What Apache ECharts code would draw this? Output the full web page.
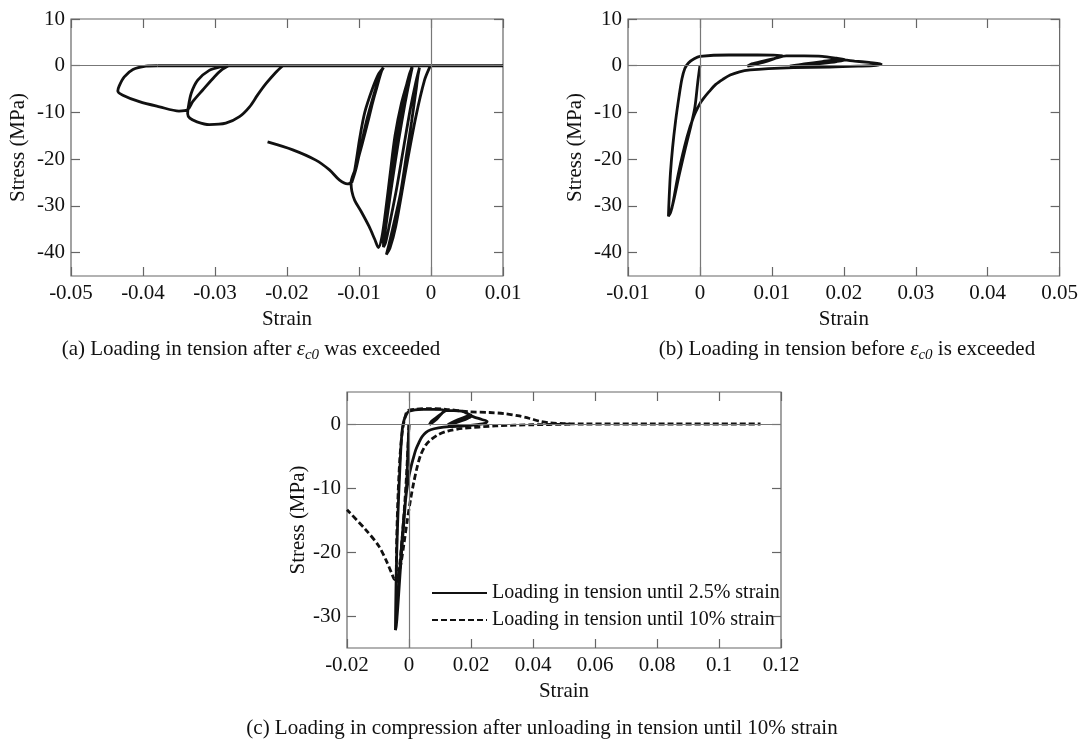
<!DOCTYPE html>
<html>
<head>
<meta charset="utf-8">
<script src="https://cdn.jsdelivr.net/npm/echarts@6/dist/echarts.min.js"></script>
<style>
  html, body { margin: 0; padding: 0; background: #fff; }
  #chart { width: 1081px; height: 744px; }
</style>
</head>
<body>
<div id="chart"></div>
<script>
// ---- (a) loading in tension after eps_c0 was exceeded ----
// right cluster: pre-peak cycles, softening, band of reload cycles, softening tail
const aRightStrain = [0, -0.0002, -0.0009, -0.0021, -0.0035, -0.0049, -0.0057, -0.0062,
  -0.0058, -0.0049, -0.0042, -0.0034, -0.0027, -0.0021, -0.0018, -0.0016,
  -0.0021, -0.0029, -0.0038, -0.0048, -0.0057, -0.0063, -0.0066,
  -0.0066, -0.0061, -0.0053, -0.0044, -0.0036, -0.0030, -0.0026,
  -0.0029, -0.0036, -0.0045, -0.0054, -0.0061, -0.0065,
  -0.0062, -0.0056, -0.0048, -0.0039, -0.0031, -0.0027,
  -0.0031, -0.0041, -0.0050, -0.0057, -0.0063, -0.0068, -0.0073,
  -0.0078, -0.0086, -0.0097, -0.0106, -0.0110, -0.0111,
  -0.0105, -0.0096, -0.0086, -0.0078, -0.0071, -0.0067,
  -0.0072, -0.0080, -0.0089, -0.0097, -0.0104, -0.0110,
  -0.0102, -0.0093, -0.0083, -0.0075, -0.0069, -0.0066,
  -0.0073, -0.0082, -0.0092, -0.0099, -0.0104, -0.0108, -0.0112,
  -0.0116, -0.0127, -0.0141, -0.0160, -0.0192, -0.0227];
const aRightStress = [0, -0.4, -3.1, -10.9, -22.3, -34.4, -39.0, -40.4,
  -38.0, -32.0, -27.0, -19.0, -12.0, -5.5, -2.0, -0.4,
  -3.5, -9.5, -17.5, -26.5, -33.5, -37.8, -38.8,
  -36.0, -30.0, -21.0, -12.0, -5.5, -1.8, -0.3,
  -2.5, -8.0, -16.0, -25.0, -32.5, -37.0,
  -33.0, -26.0, -17.0, -9.0, -3.0, -0.5,
  -2.5, -8.0, -15.0, -23.5, -31.0, -36.5, -38.9,
  -37.2, -34.4, -31.2, -28.8, -26.8, -25.0,
  -22.0, -17.0, -11.0, -6.0, -2.2, -0.5,
  -2.5, -6.5, -11.5, -17.0, -22.0, -25.0,
  -20.5, -15.0, -9.0, -4.5, -1.3, -0.4,
  -1.8, -5.2, -10.0, -15.5, -20.5, -23.8, -25.1,
  -25.3, -24.5, -22.3, -20.2, -18.0, -16.3];
// left loops
const aLoopStrain = [-0.0206, -0.0216, -0.0229, -0.0241, -0.0252, -0.0266, -0.0285, -0.0308,
  -0.0325, -0.0335, -0.0338, -0.0337, -0.0333, -0.0324, -0.0308, -0.0292, -0.0282,
  -0.0290, -0.0301, -0.0317, -0.0331, -0.0338, -0.0350, -0.0377, -0.0405,
  -0.0428, -0.0435, -0.0433, -0.0426, -0.0414, -0.0396, -0.0380];
const aLoopStress = [0, -1.5, -3.8, -6.3, -8.8, -10.9, -12.3, -12.6,
  -12.0, -11.2, -10.3, -8.8, -5.9, -3.1, -1.0, -0.2, -0.05,
  -0.8, -2.4, -5.2, -7.7, -9.4, -9.7, -8.8, -7.7,
  -6.3, -5.4, -4.3, -2.4, -0.8, -0.1, 0];
const aZeroStrain = [-0.0380, 0.01];
const aZeroStress = [0, 0];

// ---- (b) loading in tension before eps_c0 is exceeded (to 2.5 %) ----
const bStrain = [0, -0.0003, -0.0007, -0.0012, -0.0020, -0.0029, -0.0036, -0.0041, -0.00438,
  -0.0043, -0.0041, -0.0038, -0.0034, -0.0029, -0.0025, -0.0021, -0.0016, -0.0008, 0,
  0.004, 0.008, 0.0115,
  0.0105, 0.0090, 0.0075, 0.0066,
  0.0072, 0.0088, 0.0105, 0.0120, 0.0145, 0.0170, 0.0190, 0.0202,
  0.0190, 0.0170, 0.0145, 0.0125,
  0.0145, 0.0170, 0.0195, 0.0215, 0.0235, 0.0252,
  0.0245, 0.0220, 0.0180, 0.0130, 0.0095, 0.0070, 0.0055, 0.0042, 0.0032, 0.0022,
  0.0013, 0.0005, 0, -0.0009, -0.0018, -0.0030, -0.0039, -0.0043];
const bStress = [0, -3.5, -8.9, -12.5, -17.5, -23.5, -28.5, -31.5, -32.2,
  -29.0, -23.0, -17.5, -12.0, -6.5, -2.8, -0.6, 0.6, 1.5, 2.0,
  2.3, 2.3, 2.2,
  1.6, 0.8, 0.2, -0.1,
  0.4, 1.0, 1.6, 2.1, 2.1, 2.0, 1.6, 1.3,
  0.9, 0.5, 0.1, -0.1,
  0.4, 0.9, 1.3, 1.0, 0.7, 0.4,
  0.1, -0.1, -0.3, -0.4, -0.6, -0.9, -1.3, -2.0, -2.9, -4.0,
  -5.5, -7.0, -8.1, -11.0, -15.3, -23.1, -30.5, -32.0];

// ---- (c) compression after unloading in tension until 10 % ----
const cLongStrain = [0, -0.0008, -0.0019, -0.0030, -0.0038, -0.0041, -0.0040, -0.0036, -0.0029,
  -0.0021, -0.0012, -0.0004, 0.002, 0.006, 0.0118, 0.0194, 0.026, 0.0312, 0.035, 0.0387,
  0.042, 0.0452, 0.050, 0.056, 0.080, 0.1134];
const cLongStress = [0, -8, -16, -22, -24.8, -24.5, -19, -12, -5,
  -1, 1.2, 2.1, 2.3, 2.4, 2.3, 1.9, 1.8, 1.6, 1.3, 0.9,
  0.45, 0.2, 0.05, 0, 0, 0];
const cBackStrain = [0.052, 0.040, 0.028, 0.0172, 0.0125, 0.0097, 0.0072, 0.0054, 0.0038, 0.0027,
  0.0015, 0.0005, -0.0006, -0.0016, -0.0026, -0.0036, -0.0046, -0.0056, -0.0070, -0.0097,
  -0.0140, -0.0200];
const cBackStress = [-0.03, -0.12, -0.3, -0.7, -1.1, -1.6, -2.4, -3.3, -4.8, -6.6,
  -9.2, -11.8, -15.2, -18.6, -21.8, -23.8, -24.3, -23.3, -21.7, -19.1,
  -16.5, -13.4];

// ---- ticks ----
const aStrainTicks = [-0.05, -0.04, -0.03, -0.02, -0.01, 0, 0.01];
const bStrainTicks = [-0.01, 0, 0.01, 0.02, 0.03, 0.04, 0.05];
const cStrainTicks = [-0.02, 0, 0.02, 0.04, 0.06, 0.08, 0.1, 0.12];
const abStressTicks = [-40, -30, -20, -10, 0, 10];
const cStressTicks = [-30, -20, -10, 0];

const FONT = 'Liberation Serif';
const INK = '#111';
const FRAME = '#666';
const fmt = v => String(Math.round(v * 1000) / 1000);

function xAxes(gi, min, max, ticks) {
  const base = {
    gridIndex: gi, type: 'value', min: min, max: max,
    axisLine: { show: false, onZero: false }, splitLine: { show: false },
    axisTick: { inside: true, length: 9, customValues: ticks, lineStyle: { color: FRAME, width: 1.2 } }
  };
  return [
    Object.assign({}, base, {
      position: 'bottom', name: 'Strain', nameLocation: 'middle', nameGap: 33,
      nameTextStyle: { fontFamily: FONT, fontSize: 21, color: INK },
      axisLabel: { customValues: ticks, fontFamily: FONT, fontSize: 21, color: INK, margin: 7, formatter: fmt }
    }),
    Object.assign({}, base, { position: 'top', axisLabel: { show: false } })
  ];
}
function yAxes(gi, min, max, ticks, gap) {
  const base = {
    gridIndex: gi, type: 'value', min: min, max: max,
    axisLine: { show: false, onZero: false }, splitLine: { show: false },
    axisTick: { inside: true, length: 9, customValues: ticks, lineStyle: { color: FRAME, width: 1.2 } }
  };
  return [
    Object.assign({}, base, {
      position: 'left', name: 'Stress (MPa)', nameLocation: 'middle', nameGap: gap,
      nameTextStyle: { fontFamily: FONT, fontSize: 21, color: INK },
      axisLabel: { customValues: ticks, fontFamily: FONT, fontSize: 21, color: INK, margin: 6, formatter: fmt }
    }),
    Object.assign({}, base, { position: 'right', axisLabel: { show: false } })
  ];
}

function curve(name, xs, ys, ai, extra) {
  return Object.assign({
    name: name, type: 'line', xAxisIndex: ai, yAxisIndex: ai,
    data: xs.map((x, i) => [x, ys[i]]),
    showSymbol: false, symbol: 'none', smooth: 0.3, z: 3, silent: true,
    lineStyle: { color: INK, width: 2.8 }, itemStyle: { color: INK }
  }, extra || {});
}
function zeroLines(ai) {
  return {
    type: 'line', xAxisIndex: ai, yAxisIndex: ai, data: [], z: 1, silent: true,
    markLine: {
      silent: true, symbol: 'none', animation: false, label: { show: false },
      lineStyle: { color: '#777', width: 1.2, type: 'solid' },
      data: [{ yAxis: 0 }, { xAxis: 0 }]
    }
  };
}

const SOLID = 'Loading in tension until 2.5% strain';
const DASHED = 'Loading in tension until 10% strain';
const dash = { lineStyle: { color: INK, width: 2.8, type: [6, 3] } };
const capRich = {
  e: { fontFamily: FONT, fontSize: 21, fontStyle: 'italic', fill: INK },
  s: { fontFamily: FONT, fontSize: 15, fontStyle: 'italic', fill: INK, padding: [12, 0, 0, 0] }
};
function caption(x, y, text) {
  return {
    type: 'text', x: x, y: y, silent: true,
    style: {
      text: text, rich: capRich, fontFamily: FONT, fontSize: 21, fill: INK,
      align: 'center', verticalAlign: 'middle', textAlign: 'center', textVerticalAlign: 'middle'
    }
  };
}

const chart = echarts.init(document.getElementById('chart'));
const gridStyle = { show: true, borderColor: FRAME, borderWidth: 1.2, backgroundColor: 'transparent' };
chart.setOption({
  animation: false,
  backgroundColor: '#fff',
  grid: [
    Object.assign({ left: 71, top: 19, width: 432, height: 257 }, gridStyle),
    Object.assign({ left: 628, top: 19, width: 434, height: 257 }, gridStyle),
    Object.assign({ left: 347, top: 392, width: 434, height: 256 }, gridStyle)
  ],
  xAxis: [].concat(
    xAxes(0, -0.05, 0.01, aStrainTicks),
    xAxes(1, -0.01, 0.05, bStrainTicks),
    xAxes(2, -0.02, 0.12, cStrainTicks)
  ),
  yAxis: [].concat(
    yAxes(0, -45, 10, abStressTicks, 42),
    yAxes(1, -45, 10, abStressTicks, 42),
    yAxes(2, -35, 5, cStressTicks, 38)
  ),
  legend: {
    data: [SOLID, DASHED], orient: 'vertical', left: 426, top: 578,
    itemWidth: 55, itemHeight: 14, itemGap: 7, selectedMode: false,
    itemStyle: { opacity: 0 },
    textStyle: { fontFamily: FONT, fontSize: 20, color: INK }
  },
  graphic: [
    caption(251, 349, '(a) Loading in tension after {e|ε}{s|c0} was exceeded'),
    caption(847, 349, '(b) Loading in tension before {e|ε}{s|c0} is exceeded'),
    caption(542, 728, '(c) Loading in compression after unloading in tension until 10% strain')
  ],
  series: [
    zeroLines(0), zeroLines(2), zeroLines(4),
    curve('a-right', aRightStrain, aRightStress, 0),
    curve('a-loops', aLoopStrain, aLoopStress, 0),
    curve('a-zero', aZeroStrain, aZeroStress, 0, { smooth: false }),
    curve('b-curve', bStrain, bStress, 2),
    curve(SOLID, bStrain, bStress, 4),
    curve(DASHED, cLongStrain, cLongStress, 4, dash),
    curve(DASHED, cBackStrain, cBackStress, 4, dash)
  ]
});
</script>
</body>
</html>
